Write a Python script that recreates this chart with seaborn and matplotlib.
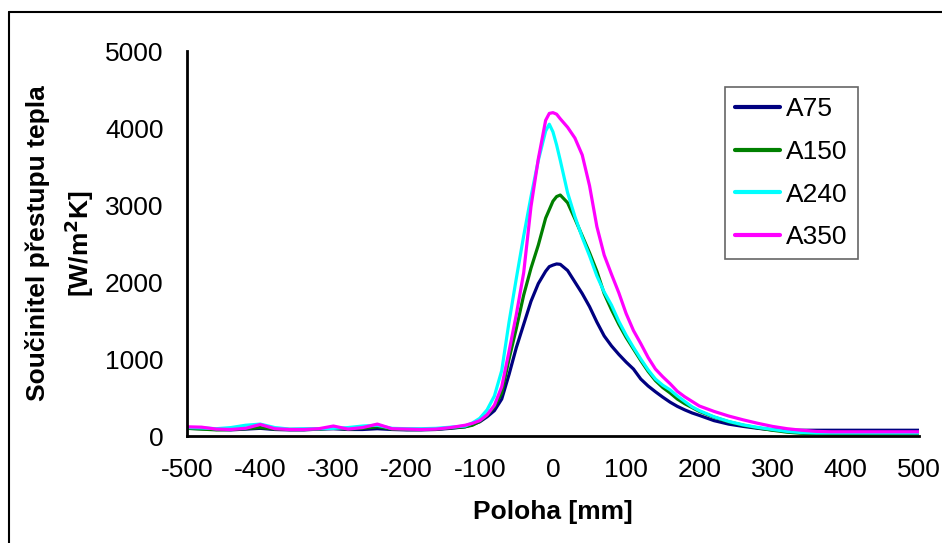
import numpy as np
import pandas as pd
import seaborn as sns
import matplotlib.pyplot as plt
from matplotlib.lines import Line2D

# ----------------------------------
# Data
# ----------------------------------
poloha = [-500, -480, -460, -440, -420, -400, -380, -360, -340, -320, -300,
          -280, -260, -240, -220, -200, -180, -160, -140, -120, -110, -100,
          -90, -80, -70, -60, -50, -40, -30, -20, -10, -5, 0, 5, 10, 20, 30,
          40, 50, 60, 70, 80, 90, 100, 110, 120, 130, 140, 150, 160, 170, 180,
          190, 200, 220, 240, 260, 280, 300, 320, 340, 360, 380, 400, 420, 440,
          460, 480, 500]

a75 = [100, 95, 85, 80, 90, 100, 85, 80, 80, 90, 95,
       85, 85, 95, 85, 80, 80, 85, 100, 120, 150, 185,
       250, 330, 480, 800, 1150, 1450, 1750, 1980, 2140, 2200, 2220, 2235, 2230, 2150, 2000,
       1850, 1680, 1480, 1300, 1170, 1060, 960, 870, 740, 650, 575, 505, 440, 385, 340,
       300, 268, 200, 155, 125, 100, 80, 75, 75, 75, 75, 75, 75, 75,
       75, 75, 75]

a150 = [100, 90, 80, 85, 95, 110, 90, 85, 85, 90, 105,
        90, 100, 120, 90, 85, 85, 90, 105, 120, 140, 190,
        270, 380, 560, 1000, 1400, 1830, 2180, 2480, 2830, 2940, 3050, 3110, 3130, 3030, 2820,
        2600, 2380, 2140, 1850, 1640, 1450, 1280, 1130, 980, 840, 720, 630, 560, 480, 420,
        370, 320, 245, 185, 140, 105, 75, 50, 35, 28, 25, 25, 25, 28,
        28, 30, 30]

a240 = [110, 105, 95, 110, 140, 155, 110, 90, 95, 95, 100,
        110, 130, 140, 100, 95, 95, 100, 115, 130, 170, 230,
        340, 520, 850, 1480, 2050, 2600, 3110, 3580, 3960, 4050, 3950, 3780, 3580, 3160, 2850,
        2580, 2340, 2080, 1870, 1700, 1490, 1310, 1150, 1000, 860, 740, 660, 600, 520, 450,
        380, 330, 250, 190, 145, 112, 85, 60, 45, 40, 40, 40, 40, 40,
        40, 40, 40]

a350 = [120, 115, 90, 85, 100, 150, 95, 85, 85, 95, 130,
        90, 110, 155, 95, 90, 85, 90, 110, 140, 165, 200,
        275, 400, 640, 1100, 1580, 2120, 2980, 3600, 4100, 4190, 4200, 4180, 4120, 4010, 3870,
        3650, 3250, 2720, 2350, 2100, 1860, 1590, 1370, 1200, 1020, 870, 770, 680, 580, 510,
        450, 390, 320, 260, 210, 165, 125, 95, 75, 60, 55, 55, 55, 55,
        55, 55, 55]

series = ['A75', 'A150', 'A240', 'A350']
colors = ['#000080', '#008000', '#00FFFF', '#FF00FF']

df = pd.DataFrame({'Poloha': poloha, 'A75': a75, 'A150': a150,
                   'A240': a240, 'A350': a350})
long_df = df.melt(id_vars='Poloha', var_name='Serie', value_name='Hodnota')

# ----------------------------------
# Plot
# ----------------------------------
sns.set_style('white')
plt.rcParams['font.family'] = ['Liberation Sans', 'DejaVu Sans']
plt.rcParams['axes.unicode_minus'] = False
plt.rcParams['text.color'] = 'black'
plt.rcParams['axes.labelcolor'] = 'black'

FS = 19

fig = plt.figure(figsize=(9.42, 5.43), dpi=100)
ax = fig.add_axes([0.1985, 0.197, 0.777, 0.709])

sns.lineplot(data=long_df, x='Poloha', y='Hodnota', hue='Serie',
             hue_order=series, palette=colors, linewidth=2.3, ax=ax)

ax.set_xlim(-500, 500)
ax.set_ylim(0, 5000)
ax.set_xticks(range(-500, 501, 100))
ax.set_yticks(range(0, 5001, 1000))

for side in ['top', 'right']:
    ax.spines[side].set_visible(False)
for side in ['left', 'bottom']:
    ax.spines[side].set_color('black')
    ax.spines[side].set_linewidth(2)

ax.tick_params(axis='both', direction='out', length=7, width=2,
               color='black', labelsize=FS, labelcolor='black')
ax.tick_params(axis='x', pad=9)
ax.tick_params(axis='y', pad=10)

ax.set_xlabel('Poloha [mm]', fontsize=FS, fontweight='bold', labelpad=13)
ax.set_ylabel('Součinitel přestupu tepla\n[W/m$^\\mathbf{2}$K]', fontsize=FS,
              fontweight='bold', labelpad=6, linespacing=1.5)

leg = ax.legend(loc='upper left', bbox_to_anchor=(0.735, 0.906),
                borderaxespad=0, fontsize=FS, frameon=True, fancybox=False,
                handlelength=1.7, handletextpad=0.25, labelspacing=0.71,
                borderpad=0.38, title=None)
leg.get_frame().set_edgecolor('#404040')
leg.get_frame().set_linewidth(1.2)
for line in leg.get_lines():
    line.set_linewidth(3)

# Chart area border (top and left edges visible in the reference)
fig.add_artist(Line2D([9 / 942, 9 / 942], [0, 1 - 12 / 543], color='black',
                      linewidth=1.5, transform=fig.transFigure))
fig.add_artist(Line2D([9 / 942, 1], [1 - 12 / 543, 1 - 12 / 543],
                      color='black', linewidth=1.5, transform=fig.transFigure))

fig.savefig('out.png', dpi=100)
